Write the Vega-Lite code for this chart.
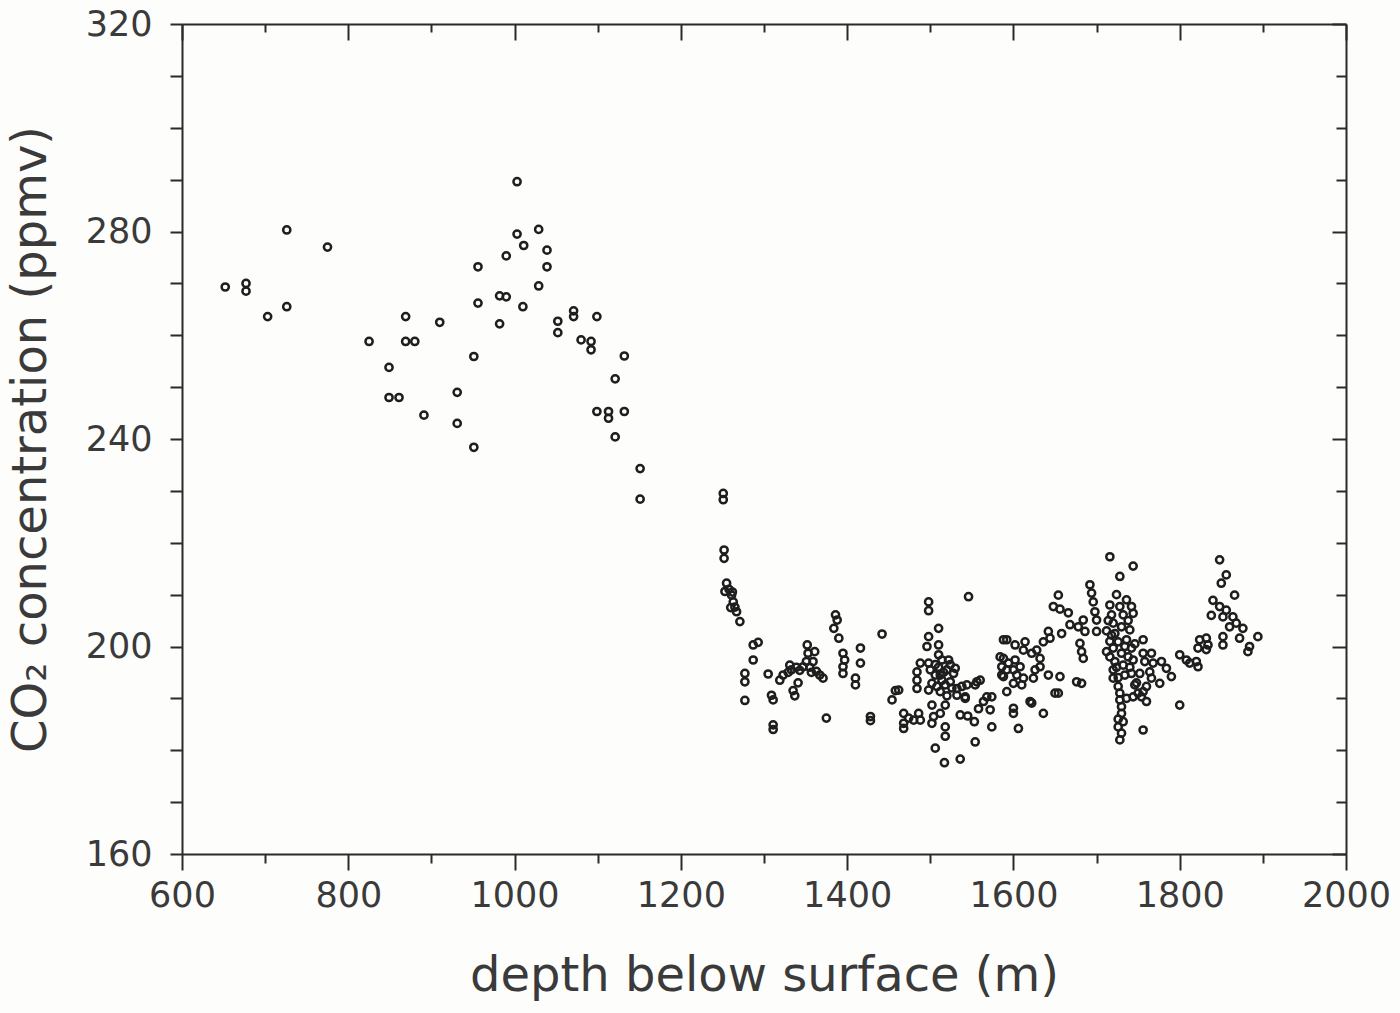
{
  "$schema": "https://vega.github.io/schema/vega-lite/v6.json",
  "width": 1164,
  "height": 830,
  "autosize": {"type": "none"},
  "padding": {"left": 182, "top": 24, "right": 54, "bottom": 159},
  "background": "#fdfdfc",
  "config": {
    "view": {"stroke": null},
    "font": "DejaVu Sans",
    "axis": {
      "domainColor": "#2a2a2a",
      "domainWidth": 2,
      "tickColor": "#2a2a2a",
      "tickWidth": 2,
      "labelColor": "#3a3a3a",
      "labelFont": "DejaVu Sans",
      "labelFontSize": 35,
      "labelFontWeight": "normal",
      "titleColor": "#3a3a3a",
      "titleFont": "DejaVu Sans",
      "titleFontSize": 48,
      "titleFontWeight": "normal",
      "grid": false,
      "labelOverlap": false,
      "labelFlush": false,
      "labelBound": false
    }
  },
  "datasets": {
    "co2": [
      {"d":652,"c":269.3},{"d":677,"c":270},{"d":677,"c":268.5},{"d":703,"c":263.6},{"d":726,"c":280.3},{"d":726,"c":265.5},{"d":775,"c":277},{"d":825,"c":258.8},{"d":869,"c":263.6},{"d":869,"c":258.8},{"d":880,"c":258.8},{"d":849,"c":253.8},{"d":849,"c":248},{"d":861,"c":248},{"d":891,"c":244.6},{"d":910,"c":262.5},{"d":931,"c":249},{"d":931,"c":243},{"d":951,"c":238.4},{"d":956,"c":273.2},{"d":956,"c":266.2},{"d":951,"c":255.9},
      {"d":1003,"c":289.6},{"d":1003,"c":279.5},{"d":1029,"c":280.4},{"d":1011,"c":277.3},{"d":990,"c":275.3},{"d":1039,"c":276.4},{"d":1039,"c":273.2},{"d":1029,"c":269.5},{"d":982,"c":267.6},{"d":990,"c":267.4},{"d":1010,"c":265.5},{"d":982,"c":262.2},{"d":1071,"c":264.7},{"d":1071,"c":263.6},{"d":1099,"c":263.6},{"d":1052,"c":262.7},{"d":1052,"c":260.5},{"d":1080,"c":259.1},{"d":1092,"c":258.8},{"d":1092,"c":257.2},{"d":1132,"c":256},{"d":1121,"c":251.6},{"d":1099,"c":245.3},{"d":1113,"c":245.3},{"d":1113,"c":244},{"d":1132,"c":245.3},{"d":1121,"c":240.4},{"d":1151,"c":234.3},{"d":1151,"c":228.4},
      {"d":1251,"c":229.5},{"d":1251,"c":228.3},{"d":1252,"c":218.6},{"d":1252,"c":217},{"d":1255,"c":212.2},{"d":1253,"c":210.6},{"d":1261,"c":209.9},{"d":1263,"c":208.6},{"d":1265,"c":207.6},{"d":1267,"c":206.7},{"d":1271,"c":204.8},{"d":1258,"c":211},{"d":1262,"c":210.5},{"d":1260,"c":207.5},
      {"d":1287,"c":200.3},{"d":1293,"c":200.8},{"d":1287,"c":197.4},{"d":1277,"c":194.8},{"d":1277,"c":193.2},{"d":1277,"c":189.6},{"d":1305,"c":194.7},{"d":1311,"c":184.9},{"d":1311,"c":184},{"d":1309,"c":190.6},{"d":1311,"c":189.7},{"d":1319,"c":193.5},{"d":1323,"c":194.5},{"d":1329,"c":195},{"d":1331,"c":196.4},{"d":1335,"c":191.5},{"d":1337,"c":190.5},{"d":1343,"c":195.4},{"d":1347,"c":196.1},{"d":1351,"c":197.1},{"d":1353,"c":198.7},{"d":1352,"c":200.3},{"d":1361,"c":199},{"d":1359,"c":197.1},{"d":1363,"c":195.2},{"d":1367,"c":194.5},{"d":1371,"c":193.9},{"d":1375,"c":186.2},{"d":1333,"c":195.5},{"d":1339,"c":196},{"d":1355,"c":196},{"d":1357,"c":195},{"d":1341,"c":193},
      {"d":1386,"c":206.1},{"d":1388,"c":205.1},{"d":1384,"c":203.5},{"d":1390,"c":201.6},{"d":1395,"c":198.7},{"d":1397,"c":197.4},{"d":1395,"c":196.1},{"d":1395,"c":194.8},{"d":1416,"c":199.7},{"d":1416,"c":196.8},{"d":1410,"c":193.9},{"d":1410,"c":192.6},{"d":1428,"c":186.5},{"d":1428,"c":185.7},{"d":1442,"c":202.4},{"d":1458,"c":191.5},{"d":1454,"c":189.7},
      {"d":1468,"c":187.1},{"d":1468,"c":185.2},{"d":1468,"c":184.2},{"d":1474,"c":186.2},{"d":1480,"c":185.8},{"d":1486,"c":187.1},{"d":1488,"c":185.8},{"d":1462,"c":191.6},
      {"d":1498,"c":208.6},{"d":1498,"c":206.9},{"d":1510,"c":203.5},{"d":1498,"c":201.9},{"d":1496,"c":200},{"d":1510,"c":200.3},{"d":1510,"c":198.4},{"d":1522,"c":197.4},{"d":1514,"c":197.4},{"d":1488,"c":196.8},{"d":1498,"c":196.8},{"d":1484,"c":195.1},{"d":1484,"c":193.5},{"d":1484,"c":191.9},{"d":1500,"c":195.5},{"d":1506,"c":194.5},{"d":1514,"c":193.5},{"d":1520,"c":195.5},{"d":1528,"c":194.8},{"d":1530,"c":195.8},{"d":1502,"c":192.9},{"d":1508,"c":192.3},{"d":1518,"c":192.6},{"d":1524,"c":193.2},{"d":1532,"c":191.9},{"d":1538,"c":192.3},{"d":1544,"c":192.6},{"d":1554,"c":192.6},{"d":1560,"c":193.5},{"d":1542,"c":190.3},{"d":1532,"c":190.6},{"d":1498,"c":191.6},{"d":1512,"c":191.3},{"d":1518,"c":188.7},{"d":1564,"c":189.4},{"d":1574,"c":190.3},{"d":1586,"c":194.5},{"d":1586,"c":196.1},{"d":1584,"c":198},{"d":1588,"c":201.3},
      {"d":1502,"c":188.7},{"d":1504,"c":186.5},{"d":1518,"c":184.5},{"d":1518,"c":182.7},{"d":1506,"c":180.4},{"d":1517,"c":177.6},{"d":1536,"c":178.3},{"d":1554,"c":181.6},{"d":1546,"c":209.6},{"d":1542,"c":190},{"d":1556,"c":193.2},{"d":1536,"c":186.8},{"d":1545,"c":186.6},{"d":1558,"c":188},{"d":1553,"c":185.5},{"d":1512,"c":187.1},{"d":1502,"c":185.2},{"d":1568,"c":190.3},{"d":1572,"c":187.8},{"d":1574,"c":184.5},{"d":1600,"c":187.1},{"d":1606,"c":184.2},{"d":1636,"c":187.1},{"d":1622,"c":189.1},{"d":1650,"c":191},{"d":1676,"c":193.2},
      {"d":1510,"c":196},{"d":1516,"c":195},{"d":1524,"c":196.5},{"d":1512,"c":194.5},{"d":1506,"c":196.5},{"d":1526,"c":192},{"d":1520,"c":190.5},
      {"d":1654,"c":209.9},{"d":1648,"c":207.7},{"d":1656,"c":207.2},{"d":1666,"c":206.5},{"d":1692,"c":211.9},{"d":1694,"c":210.3},{"d":1696,"c":208.6},{"d":1698,"c":206.7},{"d":1700,"c":205.1},{"d":1700,"c":202.9},{"d":1684,"c":205.1},{"d":1678,"c":203.8},{"d":1686,"c":202.9},{"d":1668,"c":204.2},{"d":1658,"c":202.5},{"d":1642,"c":202.9},{"d":1644,"c":201.6},{"d":1636,"c":200.9},{"d":1680,"c":200.6},{"d":1682,"c":199},{"d":1684,"c":197.7},{"d":1592,"c":201.3},{"d":1602,"c":200.3},{"d":1614,"c":200.9},{"d":1612,"c":199.3},{"d":1622,"c":198.7},{"d":1628,"c":199.3},{"d":1632,"c":197.7},{"d":1588,"c":197.7},{"d":1594,"c":196.8},{"d":1602,"c":197.4},{"d":1592,"c":195.5},{"d":1600,"c":195.5},{"d":1608,"c":196.1},{"d":1588,"c":194.2},{"d":1604,"c":194.5},{"d":1600,"c":192.9},{"d":1610,"c":192.6},{"d":1626,"c":195.5},{"d":1632,"c":196.1},{"d":1642,"c":194.5},{"d":1624,"c":193.9},{"d":1612,"c":193.9},{"d":1656,"c":194.2},{"d":1654,"c":191},{"d":1620,"c":189.4},{"d":1600,"c":188.1},{"d":1592,"c":191.3},{"d":1682,"c":192.9},
      {"d":1716,"c":217.3},{"d":1744,"c":215.5},{"d":1728,"c":213.5},
      {"d":1716,"c":208},{"d":1728,"c":207.7},{"d":1742,"c":207.7},{"d":1718,"c":206.1},{"d":1732,"c":206.1},{"d":1744,"c":206.4},{"d":1720,"c":204.5},{"d":1730,"c":203.8},{"d":1740,"c":203.2},{"d":1718,"c":202.2},{"d":1726,"c":200.9},{"d":1736,"c":201.3},{"d":1756,"c":201.3},{"d":1720,"c":199.7},{"d":1730,"c":198.7},{"d":1742,"c":199.7},{"d":1756,"c":198.7},{"d":1766,"c":198.7},{"d":1722,"c":197.1},{"d":1732,"c":196.4},{"d":1744,"c":197.4},{"d":1758,"c":197.1},{"d":1778,"c":197.1},{"d":1784,"c":195.8},{"d":1790,"c":194.2},{"d":1800,"c":198.4},{"d":1720,"c":195.5},{"d":1720,"c":193.9},{"d":1734,"c":194.5},{"d":1742,"c":194.8},{"d":1752,"c":194.8},{"d":1764,"c":195.1},{"d":1766,"c":193.9},{"d":1776,"c":192.9},{"d":1746,"c":192.6},{"d":1756,"c":191.3},{"d":1744,"c":190.3},{"d":1760,"c":189.4},{"d":1726,"c":192.3},{"d":1728,"c":191},{"d":1728,"c":189.7},{"d":1730,"c":188.4},{"d":1730,"c":187.1},{"d":1732,"c":185.5},{"d":1730,"c":183.3},{"d":1728,"c":182},{"d":1756,"c":183.9},{"d":1800,"c":188.7},{"d":1808,"c":197.4},
      {"d":1714,"c":205},{"d":1716,"c":201},{"d":1716,"c":198},{"d":1724,"c":210},{"d":1736,"c":209},{"d":1724,"c":196},{"d":1738,"c":198},{"d":1726,"c":186},{"d":1726,"c":184.5},{"d":1740,"c":196},{"d":1748,"c":193},{"d":1736,"c":190},{"d":1750,"c":191},{"d":1722,"c":202.5},{"d":1734,"c":200},{"d":1746,"c":200.5},{"d":1712,"c":203},{"d":1712,"c":199},{"d":1738,"c":205},{"d":1726,"c":194},
      {"d":1768,"c":196.8},{"d":1760,"c":192.3},{"d":1754,"c":190.3},
      {"d":1848,"c":216.7},{"d":1856,"c":213.8},{"d":1850,"c":212.2},{"d":1866,"c":209.9},{"d":1840,"c":208.9},{"d":1848,"c":207.7},{"d":1856,"c":207},{"d":1838,"c":206},{"d":1852,"c":205.7},{"d":1864,"c":205.7},{"d":1868,"c":204.5},{"d":1876,"c":203.5},{"d":1860,"c":203.8},{"d":1872,"c":201.6},{"d":1894,"c":201.9},{"d":1884,"c":200},{"d":1882,"c":199},{"d":1852,"c":201.9},{"d":1852,"c":200.3},{"d":1832,"c":201.6},{"d":1834,"c":200.3},{"d":1824,"c":201.3},{"d":1822,"c":199.7},{"d":1820,"c":197.1},{"d":1812,"c":196.8},{"d":1822,"c":196.1},{"d":1832,"c":199.4}
    ]
  },
  "data": {"name": "co2"},
  "layer": [
    {
      "mark": {"type": "point", "shape": "circle", "filled": false, "size": 52, "strokeWidth": 2.5, "color": "#1e1e1e", "opacity": 1},
      "encoding": {
        "x": {
          "field": "d", "type": "quantitative",
          "scale": {"domain": [600, 2000], "nice": false, "zero": false},
          "axis": {
            "orient": "bottom",
            "title": "depth below surface (m)",
            "values": [600,700,800,900,1000,1100,1200,1300,1400,1500,1600,1700,1800,1900,2000],
            "format": "d",
            "labelExpr": "datum.value % 200 === 0 ? datum.label : ''",
            "tickSize": {"condition": {"test": "datum.value % 200 === 0", "value": 16}, "value": 9},
            "labelPadding": 8,
            "titlePadding": 39
          }
        },
        "y": {
          "field": "c", "type": "quantitative",
          "scale": {"domain": [160, 320], "nice": false, "zero": false},
          "axis": {
            "orient": "left",
            "title": "CO₂ concentration (ppmv)",
            "values": [160,170,180,190,200,210,220,230,240,250,260,270,280,290,300,310,320],
            "format": "d",
            "labelExpr": "datum.value % 40 === 0 ? datum.label : ''",
            "tickSize": 12,
            "labelPadding": 18,
            "titlePadding": 30
          }
        }
      }
    },
    {
      "mark": {"type": "point", "shape": "circle", "filled": false, "size": 36, "opacity": 0},
      "encoding": {
        "x": {
          "field": "d", "type": "quantitative",
          "axis": {
            "orient": "top",
            "title": null,
            "labels": false,
            "values": [600,700,800,900,1000,1100,1200,1300,1400,1500,1600,1700,1800,1900,2000],
            "tickSize": {"condition": {"test": "datum.value % 200 === 0", "value": -16}, "value": -8}
          }
        },
        "y": {
          "field": "c", "type": "quantitative",
          "axis": {
            "orient": "right",
            "title": null,
            "labels": false,
            "values": [160,170,180,190,200,210,220,230,240,250,260,270,280,290,300,310,320],
            "tickSize": {"condition": {"test": "datum.value % 40 === 0", "value": -14}, "value": -10}
          }
        }
      }
    }
  ],
  "resolve": {"axis": {"x": "independent", "y": "independent"}}
}
